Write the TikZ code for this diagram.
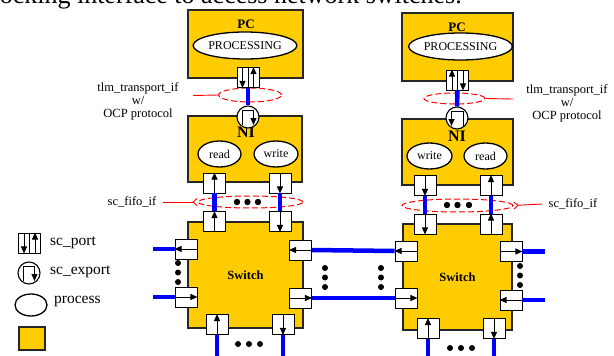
\documentclass[tikz,border=0pt]{standalone}
\usepackage{fontspec}
\setmainfont{Liberation Serif}
\usetikzlibrary{shapes.geometric,arrows.meta}
\definecolor{ncyellow}{HTML}{FFCC00}
\definecolor{nblue}{HTML}{0000FF}
\tikzset{
 ybox/.style={draw=black!85, line width=1.1pt, fill=ncyellow, rectangle, inner sep=0pt},
 proc/.style={ellipse, draw, fill=white, line width=1.3pt, inner sep=0pt, font=\fontsize{12}{12}\selectfont},
 portbox/.style={draw, fill=white, line width=0.9pt, rectangle, inner sep=0pt, minimum width=22pt, minimum height=20pt},
 parr/.style={line width=0.9pt, -{Triangle[length=7pt,width=6pt]}},
 pline/.style={line width=0.9pt},
 expc/.style={circle, draw, fill=white, line width=1.1pt, minimum size=22pt, inner sep=0pt},
 bus/.style={draw=nblue, line width=4.5pt},
 rdash/.style={ellipse, draw=red, dash pattern=on 6pt off 3pt, line width=1pt, inner sep=0pt},
 rline/.style={draw=red, line width=0.9pt},
 rtip/.style={rline, -{Straight Barb[reversed,length=4pt,width=7pt]}},
 lbl/.style={font=\fontsize{12.5}{13}\selectfont, inner sep=0pt, align=center},
 lgd/.style={font=\fontsize{15.5}{16}\selectfont, inner sep=0pt, anchor=west},
 ttl/.style={font=\bfseries\fontsize{13}{13}\selectfont, inner sep=0pt},
}
\newcommand{\portUp}[3]{\node[portbox] (#1) at (#2,#3) {}; \draw[parr] (#1.south) -- (#1.north);}
\newcommand{\portDn}[3]{\node[portbox] (#1) at (#2,#3) {}; \draw[parr] (#1.north) -- (#1.south);}
\newcommand{\portLt}[3]{\node[portbox] (#1) at (#2,#3) {}; \draw[parr] (#1.east) -- (#1.west);}
\newcommand{\portRt}[3]{\node[portbox] (#1) at (#2,#3) {}; \draw[parr] (#1.west) -- (#1.east);}
\newcommand{\portBiDU}[3]{\node[portbox] (#1) at (#2,#3) {};
  \draw[pline] (#1.north) -- (#1.south);
  \draw[parr] ([xshift=-5.5pt]#1.north) -- ([xshift=-5.5pt]#1.south);
  \draw[parr] ([xshift=5.5pt]#1.south) -- ([xshift=5.5pt]#1.north);}
\newcommand{\portBiUD}[3]{\node[portbox] (#1) at (#2,#3) {};
  \draw[pline] (#1.north) -- (#1.south);
  \draw[parr] ([xshift=-5.5pt]#1.south) -- ([xshift=-5.5pt]#1.north);
  \draw[parr] ([xshift=5.5pt]#1.north) -- ([xshift=5.5pt]#1.south);}
\newcommand{\exportR}[3]{\node[expc] (#1) at (#2,#3) {};
  \draw[pline] ([xshift=-6pt,yshift=-8pt]#1.center) -- ([xshift=-6pt,yshift=7pt]#1.center) -- ([xshift=6pt,yshift=7pt]#1.center);
  \draw[parr] ([xshift=5.5pt,yshift=7pt]#1.center) -- ([xshift=5.5pt,yshift=-8pt]#1.center);}
\newcommand{\exportL}[3]{\node[expc] (#1) at (#2,#3) {};
  \draw[pline] ([xshift=6pt,yshift=-8pt]#1.center) -- ([xshift=6pt,yshift=7pt]#1.center) -- ([xshift=-6pt,yshift=7pt]#1.center);
  \draw[parr] ([xshift=-5.5pt,yshift=7pt]#1.center) -- ([xshift=-5.5pt,yshift=-8pt]#1.center);}
\begin{document}
\begin{tikzpicture}[x=1pt,y=-1pt]
\clip (0,0) rectangle (614,356);
\fill[white] (0,0) rectangle (614,356);
% title (cut off)
\node[font=\fontsize{26}{26}\selectfont, inner sep=0pt, anchor=base east] (title) at (462,4) {blocking interface to access network switches.};

% ---------- left column ----------
\node[ybox, minimum width=115pt, minimum height=68pt] (pc1) at (245.5,44) {};
\node[ttl] (pc1t) at (246,24) {PC};
\node[proc, minimum width=102pt, minimum height=27pt] (proc1) at (245,45.5) {PROCESSING};
\node[ybox, minimum width=114pt, minimum height=66pt] (ni1) at (245,149) {};
\node[ttl, font=\bfseries\fontsize{16}{16}\selectfont] (ni1t) at (246,132) {NI};
\node[proc, minimum width=43pt, minimum height=26pt] (read1) at (219.5,154) {read};
\node[proc, minimum width=44pt, minimum height=26pt] (write1) at (276,154) {write};
\node[ybox, minimum width=115pt, minimum height=106pt, font=\bfseries\fontsize{12.5}{12.5}\selectfont] (sw1) at (245.5,275) {Switch};

\node[rdash, minimum width=63pt, minimum height=14pt] (r1) at (250,95) {};
\node[rdash, minimum width=105pt, minimum height=12pt] (f1) at (250.5,202) {};

\portBiDU{pcp1}{248}{77.5}
\exportR{ex1}{248}{117}
\portUp{n1a}{214.5}{183}
\portDn{n1b}{280}{183}
\portUp{s1a}{214.5}{221.5}
\portDn{s1b}{280}{221.5}
\portLt{sw1l1}{186}{249}
\portRt{sw1l2}{186}{297}
\portLt{sw1r1}{300.5}{250}
\portRt{sw1r2}{300.5}{298}
\portUp{sw1b1}{217}{324.5}
\portDn{sw1b2}{283}{324.5}

% ---------- right column ----------
\node[ybox, minimum width=111pt, minimum height=68pt] (pc2) at (457.5,47) {};
\node[ttl] (pc2t) at (457,27) {PC};
\node[proc, minimum width=101pt, minimum height=27pt] (proc2) at (460.5,46.5) {PROCESSING};
\node[ybox, minimum width=111pt, minimum height=66pt] (ni2) at (457.5,152) {};
\node[ttl, font=\bfseries\fontsize{16}{16}\selectfont] (ni2t) at (457,136) {NI};
\node[proc, minimum width=45pt, minimum height=26pt] (write2) at (429.5,156) {write};
\node[proc, minimum width=43pt, minimum height=26pt] (read2) at (485.5,156) {read};
\node[ybox, minimum width=109pt, minimum height=106pt, font=\bfseries\fontsize{12.5}{12.5}\selectfont] (sw2) at (457.5,277) {Switch};

\node[rdash, minimum width=61pt, minimum height=11pt] (r2) at (454.5,98.5) {};
\node[rdash, minimum width=111pt, minimum height=13pt] (f2) at (457.5,205.5) {};

\portBiUD{pcp2}{457.5}{80}
\exportL{ex2}{457}{118}
\portDn{n2a}{425}{185.5}
\portUp{n2b}{491}{185.5}
\portDn{s2a}{425}{224}
\portUp{s2b}{491}{224}
\portLt{sw2l1}{406}{251}
\portRt{sw2l2}{406}{298}
\portRt{sw2r1}{511}{251.5}
\portLt{sw2r2}{511}{300}
\portUp{sw2b1}{428}{328.5}
\portDn{sw2b2}{494}{328.5}

% ---------- buses ----------
\coordinate (e1) at (153,249);
\coordinate (e2) at (153,297);
\coordinate (e3) at (545,251.5);
\coordinate (e4) at (545,300);
\coordinate (b1) at (217,360);
\coordinate (b2) at (283,360);
\coordinate (b3) at (428,360);
\coordinate (b4) at (494,360);
\draw[bus] (pcp1.south) -- (ex1.north);
\draw[bus] (pcp2.south) -- (ex2.north);
\draw[bus] (n1a.south) -- (s1a.north);
\draw[bus] (n1b.south) -- (s1b.north);
\draw[bus] (n2a.south) -- (s2a.north);
\draw[bus] (n2b.south) -- (s2b.north);
\draw[bus] (e1) -- (sw1l1.west);
\draw[bus] (e2) -- (sw1l2.west);
\draw[bus] (sw1r1.east) -- (sw2l1.west);
\draw[bus] (sw1r2.east) -- (sw2l2.west);
\draw[bus] (sw2r1.east) -- (e3);
\draw[bus] (sw2r2.east) -- (e4);
\draw[bus] (sw1b1.south) -- (b1);
\draw[bus] (sw1b2.south) -- (b2);
\draw[bus] (sw2b1.south) -- (b3);
\draw[bus] (sw2b2.south) -- (b4);

% ---------- dots ----------
\foreach \x in {237,247.5,258} \fill (\x,202) circle (3.2pt);
\foreach \x in {447,457.5,469} \fill (\x,205) circle (3.2pt);
\foreach \y in {263,272.5,282} \fill (178,\y) circle (3pt);
\foreach \y in {268,277.5,287} {\fill (325,\y) circle (3pt); \fill (381,\y) circle (3pt);}
\foreach \y in {266,275.5,285} \fill (520,\y) circle (3pt);
\foreach \x in {238,249,260} \fill (\x,344) circle (3pt);
\foreach \x in {450,461,472} \fill (\x,348) circle (3pt);

% ---------- labels ----------
\node[lbl] (l1) at (138,101) {tlm\_transport\_if\\w/\\OCP protocol};
\coordinate (c1) at (193,95.5);
\draw[rline] (c1) -- (r1.west);
\node[lbl] (l2) at (567,103.5) {tlm\_transport\_if\\w/\\OCP protocol};
\coordinate (c2) at (513,99);
\draw[rline] (r2.east) -- (c2);
\node[lbl] (l3) at (132,202) {sc\_fifo\_if};
\coordinate (c3) at (163,202);
\draw[rtip] (c3) -- (f1.west);
\node[lbl] (l4) at (573,204) {sc\_fifo\_if};
\coordinate (c4) at (542,204);
\draw[rtip] (c4) -- (f2.east);

% ---------- legend ----------
\portBiDU{lgport}{29.5}{243}
\node[lgd] (lgportt) at (50,243) {sc\_port};
\exportR{lgexp}{29}{273}
\node[lgd] (lgexpt) at (50,272) {sc\_export};
\node[proc, minimum width=32pt, minimum height=22pt] (lgproc) at (31,305) {};
\node[lgd] (lgproct) at (54,301) {process};
\node[ybox, minimum width=26pt, minimum height=23pt] (lgbox) at (32,338.5) {};
\end{tikzpicture}
\end{document}
